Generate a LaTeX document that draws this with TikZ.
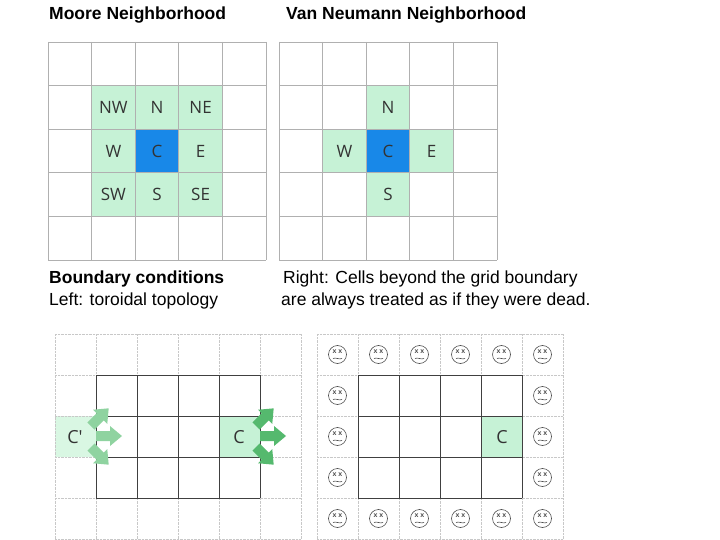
\documentclass[tikz,border=0pt]{standalone}
\usepackage{fontspec}
\setmainfont{Liberation Sans}
\newfontfamily\cellfont{Open Sans}
\definecolor{lg}{HTML}{C6F2D6}
\definecolor{lg2}{HTML}{D9F7E3}
\definecolor{cb}{HTML}{1888E8}
\definecolor{gr}{HTML}{55B96E}
\definecolor{grl}{HTML}{8FD3A0}
\definecolor{gl}{HTML}{B0B0B0}
\definecolor{txt}{HTML}{333333}
\newcommand{\barrow}[6]{% x y dx dy length colour
  \fill[#6] ({#1-5*(-#4)},{#2-5*#3})
   -- ({#1+(#5-12)*#3-5*(-#4)},{#2+(#5-12)*#4-5*#3})
   -- ({#1+(#5-12)*#3-10*(-#4)},{#2+(#5-12)*#4-10*#3})
   -- ({#1+#5*#3},{#2+#5*#4})
   -- ({#1+(#5-12)*#3+10*(-#4)},{#2+(#5-12)*#4+10*#3})
   -- ({#1+(#5-12)*#3+5*(-#4)},{#2+(#5-12)*#4+5*#3})
   -- ({#1+5*(-#4)},{#2+5*#3}) -- cycle;}
\begin{document}
\begin{tikzpicture}[x=1pt,y=-1pt,
  ttl/.style={anchor=west,inner sep=0pt,font=\fontsize{17.5}{20}\selectfont},
  lab/.style={font=\cellfont\fontsize{17}{20}\selectfont,text=txt},
  face/.pic={\draw[black!70,line width=0.6pt] (0,0) circle (9);
    \node[font=\fontsize{7}{7}\selectfont\bfseries,text=black!70] at (0,-2.5) {x x};
    \draw[black!70,line width=0.6pt] (-4.5,4) .. controls (-2,2.5) and (2,5.5) .. (4.5,4);}]
\useasboundingbox (0,0) rectangle (720,540);
\fill[white] (0,0) rectangle (720,540);
% titles
\node[ttl,font=\fontsize{17.5}{20}\selectfont\bfseries] (t1) at (49,15) {Moore Neighborhood};
\node[ttl,font=\fontsize{17.5}{20}\selectfont\bfseries] (t2) at (286,15) {Van Neumann Neighborhood};
\node[ttl,font=\fontsize{17.5}{20}\selectfont\bfseries] (t3) at (49,279) {Boundary conditions};
\node[ttl] (t4) at (49,301) {Left: toroidal topology};
\node[ttl] (t5) at (283,279) {Right: Cells beyond the grid boundary};
\node[ttl] (t6) at (281,301) {are always treated as if they were dead.};
% Moore
\def\cs{43.6}
\foreach \i/\j in {1/1,2/1,3/1,1/2,3/2,1/3,2/3,3/3}
  \fill[lg] (48+\i*\cs,42+\j*\cs) rectangle ++(\cs,\cs);
\fill[cb] (48+2*\cs,42+2*\cs) rectangle ++(\cs,\cs);
\foreach \k in {0,...,5}{
  \draw[gl,line width=0.8pt] (48+\k*\cs,42) -- (48+\k*\cs,260);
  \draw[gl,line width=0.8pt] (48,42+\k*\cs) -- (266,42+\k*\cs);}
\foreach \t/\i/\j in {NW/1/1,N/2/1,NE/3/1,W/1/2,C/2/2,E/3/2,SW/1/3,S/2/3,SE/3/3}
  \node[lab] (m\t) at (48+\i*\cs+0.5*\cs,42+\j*\cs+0.5*\cs) {\t};
% Van Neumann
\foreach \i/\j in {2/1,1/2,3/2,2/3}
  \fill[lg] (279+\i*\cs,42+\j*\cs) rectangle ++(\cs,\cs);
\fill[cb] (279+2*\cs,42+2*\cs) rectangle ++(\cs,\cs);
\foreach \k in {0,...,5}{
  \draw[gl,line width=0.8pt] (279+\k*\cs,42) -- (279+\k*\cs,260);
  \draw[gl,line width=0.8pt] (279,42+\k*\cs) -- (497,42+\k*\cs);}
\foreach \t/\i/\j in {N/2/1,W/1/2,C/2/2,E/3/2,S/2/3}
  \node[lab] (v\t) at (279+\i*\cs+0.5*\cs,42+\j*\cs+0.5*\cs) {\t};
% bottom left toroidal
\def\bs{41}
\fill[lg2] (55,416) rectangle ++(\bs,\bs);
\fill[lg] (219,416) rectangle ++(\bs,\bs);
\foreach \k in {0,...,6} \draw[gl!70,densely dotted] (55+\k*\bs,334) -- (55+\k*\bs,539);
\foreach \k in {0,...,5} \draw[gl!70,densely dotted] (55,334+\k*\bs) -- (301,334+\k*\bs);
\foreach \k in {1,...,5} \draw[black!75,line width=0.9pt] (55+\k*\bs,375) -- (55+\k*\bs,498);
\foreach \k in {1,...,4} \draw[black!75,line width=0.9pt] (96,334+\k*\bs) -- (260,334+\k*\bs);
\node[lab,font=\cellfont\fontsize{18}{20}\selectfont] (cp) at (75,437) {C'};
\node[lab,font=\cellfont\fontsize{18}{20}\selectfont] (cc) at (239,437) {C};
\barrow{96}{436}{1}{0}{26}{grl}
\barrow{91}{426}{0.7071}{-0.7071}{25}{grl}
\barrow{91}{447}{0.7071}{0.7071}{25}{grl}
\barrow{260}{436}{1}{0}{26}{gr}
\barrow{256}{426}{0.7071}{-0.7071}{25}{gr}
\barrow{256}{447}{0.7071}{0.7071}{25}{gr}
% bottom right dead
\fill[lg] (481,416) rectangle ++(\bs,\bs);
\foreach \k in {0,...,6} \draw[gl!70,densely dotted] (317+\k*\bs,334) -- (317+\k*\bs,539);
\foreach \k in {0,...,5} \draw[gl!70,densely dotted] (317,334+\k*\bs) -- (563,334+\k*\bs);
\foreach \k in {1,...,5} \draw[black!75,line width=0.9pt] (317+\k*\bs,375) -- (317+\k*\bs,498);
\foreach \k in {1,...,4} \draw[black!75,line width=0.9pt] (358,334+\k*\bs) -- (522,334+\k*\bs);
\node[lab,font=\cellfont\fontsize{18}{20}\selectfont] (rc) at (502,437) {C};
\foreach \i in {0,...,5}{
  \pic at (337.5+\i*\bs,354.5) {face};
  \pic at (337.5+\i*\bs,518.5) {face};}
\foreach \j in {1,2,3}{
  \pic at (337.5,354.5+\j*\bs) {face};
  \pic at (542.5,354.5+\j*\bs) {face};}
\end{tikzpicture}
\end{document}
